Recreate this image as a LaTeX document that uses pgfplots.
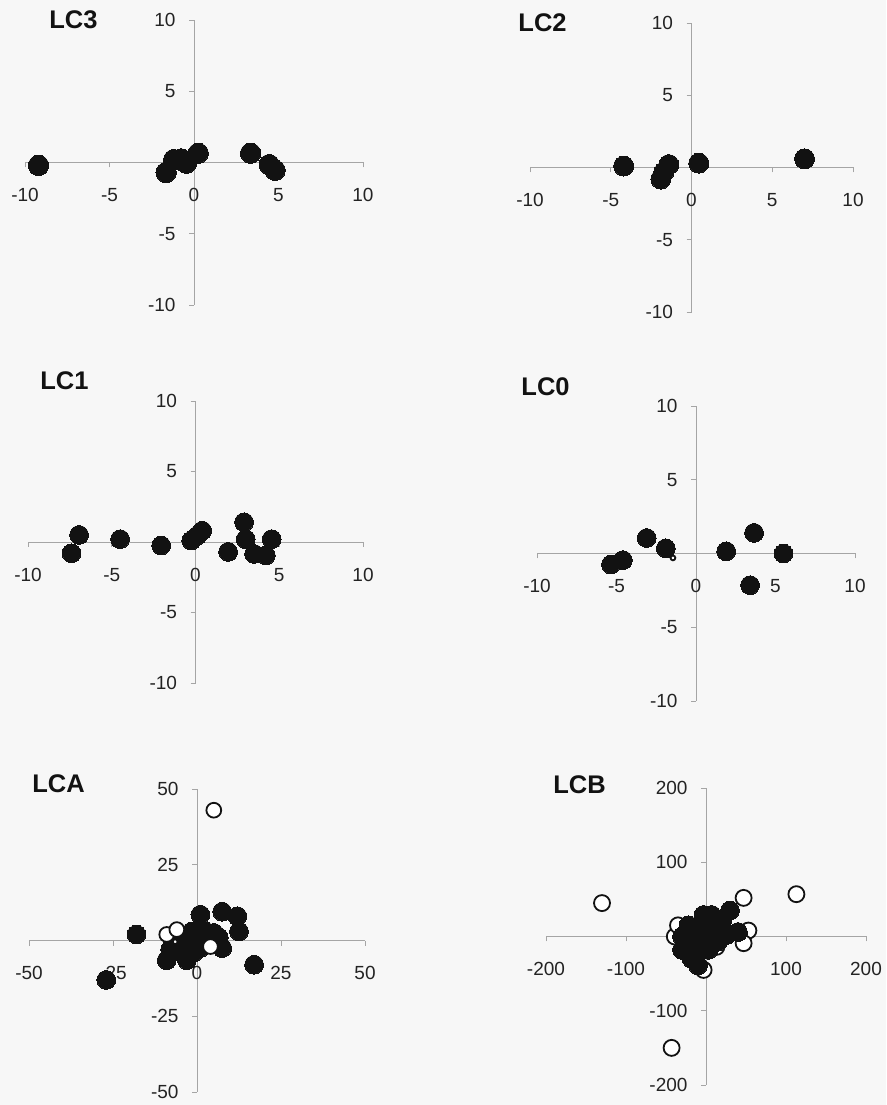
\documentclass[border=0pt]{standalone}
\usepackage{fontspec}
\setmainfont{Liberation Sans}
\usepackage{pgfplots}
\pgfplotsset{compat=1.18}

\definecolor{bg}{RGB}{247,247,247}
\definecolor{axisgray}{RGB}{165,165,165}
\definecolor{labelgray}{RGB}{35,35,35}
\definecolor{dot}{RGB}{18,18,18}

\newcommand{\ticksize}{\fontsize{19}{22}\selectfont}
\newcommand{\titlesize}{\fontsize{25.5}{28}\selectfont\bfseries}

\pgfplotsset{
  panel/.style={
    scale only axis, anchor=south west, clip=false,
    axis lines=middle,
    axis line style={-, draw=axisgray, line width=0.9pt},
    every inner x axis line/.append style={-},
    every inner y axis line/.append style={-},
    hide obscured x ticks=false, hide obscured y ticks=false,
    tick style={draw=axisgray, line width=0.9pt},
    major tick length=5pt, tick align=outside,
    ticklabel style={font=\ticksize, text=labelgray},
    xticklabel style={anchor=north, yshift=-17.5pt},
    yticklabel style={anchor=east, xshift=-10pt},
    /pgf/number format/assume math mode=true,
  },
  filled/.style={only marks, mark=*, mark size=#1,
    mark options={draw=dot, fill=dot, line width=0pt}},
  filled/.default=9.4pt,
  open/.style={only marks, mark=*, mark size=#1,
    mark options={draw=dot, fill=white, line width=1.8pt}},
  open/.default=7.4pt,
  small10/.style={xmin=-10, xmax=10, ymin=-10, ymax=10,
    xtick={-10,-5,0,5,10}, xticklabels={-10,-5,0,5,10},
    ytick={-10,-5,5,10}, yticklabels={-10,-5,5,10}},
}

\begin{document}
\begin{tikzpicture}
\fill[bg] (0,0) rectangle (886pt,1105pt);
\useasboundingbox (0,0) rectangle (886pt,1105pt);

% LC3
\begin{axis}[panel, small10, at={(25pt,800pt)}, width=338pt, height=285pt]
\addplot[filled=10.2pt] coordinates {
  (-9.2,-0.2) (-1.65,-0.7) (-1.2,0.2) (-0.75,0.25) (-0.45,-0.05)
  (0.25,0.65) (3.35,0.65) (4.45,-0.15) (4.8,-0.55)};
\end{axis}

% LC2
\begin{axis}[panel, small10, at={(530pt,793pt)}, width=323pt, height=289pt]
\addplot[filled=10pt] coordinates {
  (-4.2,0.1) (-1.4,0.2) (-1.7,-0.3) (-1.9,-0.8) (0.45,0.3) (7.0,0.6)};
\end{axis}

% LC1
\begin{axis}[panel, small10, at={(28pt,422pt)}, width=335pt, height=282pt]
\addplot[filled] coordinates {
  (-7.4,-0.8) (-6.95,0.5) (-4.5,0.2) (-2.05,-0.25) (-0.25,0.1)
  (0.1,0.45) (0.4,0.8) (1.95,-0.7) (2.9,1.4) (3.0,0.2)
  (3.5,-0.85) (4.2,-0.95) (4.55,0.2)};
\end{axis}

% LC0
\begin{axis}[panel, small10, at={(537pt,404pt)}, width=318pt, height=295pt]
\addplot[filled] coordinates {
  (-5.35,-0.75) (-4.6,-0.45) (-3.1,1.05) (-1.9,0.35) (1.9,0.15)
  (3.65,1.4) (5.5,0.0) (3.4,-2.15)};
\addplot[open=2.4pt] coordinates {(-1.45,-0.3)};
\end{axis}

% LCA
\begin{axis}[panel, at={(29pt,13pt)}, width=336pt, height=303pt,
  xmin=-50, xmax=50, ymin=-50, ymax=50,
  xtick={-50,-25,0,25,50}, xticklabels={-50,-25,0,25,50},
  ytick={-50,-25,25,50}, yticklabels={-50,-25,25,50}]
\addplot[filled] coordinates {
  (-27,-13) (-18,2) (17,-8) (1,8.5) (7.5,9.5) (12,8) (12.5,3)
  (-9,-6.5) (-3,-6.5) (-1.5,3) (0,0) (2.5,3) (5,2.5) (6.5,1)
  (7.5,-2.5) (-5,-1) (-4,1.5) (1,-2.5) (-1,-4) (3,-1) (-6,-3.5)
  (4.5,-0.5) (-8,-3)};
\addplot[open] coordinates {(5,43) (-9,2) (-6,3.6) (4,-2)};
\addplot[open=2.4pt] coordinates {(-6.5,-0.4)};
\end{axis}

% LCB
\begin{axis}[panel, at={(546pt,20pt)}, width=320pt, height=297pt,
  xmin=-200, xmax=200, ymin=-200, ymax=200,
  xtick={-200,-100,0,100,200}, xticklabels={-200,-100,0,100,200},
  ytick={-200,-100,100,200}, yticklabels={-200,-100,100,200}]
\addplot[open=8pt] coordinates {
  (-130,45) (113,57) (-43,-150) (47,52) (53,8) (47,-9)
  (-39,0) (-35,15) (-3,-45) (13,-14)};
\addplot[filled] coordinates {
  (30,35) (-3,29) (7,29) (-22,15) (-10,11) (11,15) (-30,0) (-1,-3)
  (15,-7) (26,2) (40,6) (-30,-18) (-14,-12) (3,-18) (-18,-30)
  (-10,-39) (-20,5) (0,10) (-8,-20) (20,20)};
\end{axis}

% panel titles
\node[font=\titlesize, text=dot] at (73.5pt,1085.5pt) {LC3};
\node[font=\titlesize, text=dot] at (542.5pt,1082pt) {LC2};
\node[font=\titlesize, text=dot] at (64.5pt,724pt) {LC1};
\node[font=\titlesize, text=dot] at (545.5pt,718.5pt) {LC0};
\node[font=\titlesize, text=dot] at (58.5pt,321.5pt) {LCA};
\node[font=\titlesize, text=dot] at (579.5pt,320pt) {LCB};
\end{tikzpicture}
\end{document}
